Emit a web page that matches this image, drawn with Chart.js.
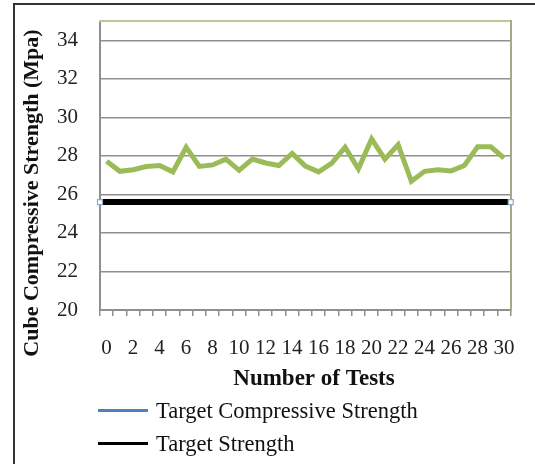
<!DOCTYPE html>
<html>
<head>
<meta charset="utf-8">
<script src="https://cdn.jsdelivr.net/npm/chart.js@4"></script>
<style>
  body { margin: 0; background: #fff; }
  #wrap { position: relative; width: 535px; height: 464px; overflow: hidden; }
  #frame { position: absolute; left: 13px; top: 3px; width: 600px; height: 600px; border: 2px solid #333; }
  #chart { position: absolute; left: 0; top: 0; }
  #legend { position: absolute; left: 98px; top: 394px; font-family: "Liberation Serif"; font-size: 22.5px; color: #111; }
  .item { display: flex; align-items: center; height: 33px; }
  .swatch { width: 50px; height: 3px; margin-right: 8px; }
</style>
</head>
<body>
<div id="wrap">
  <div id="frame"></div>
  <canvas id="chart" width="535" height="464"></canvas>
  <div id="legend"></div>
</div>
<script>
// Data
const tests = [0, 1, 2, 3, 4, 5, 6, 7, 8, 9, 10, 11, 12, 13, 14, 15, 16, 17, 18, 19, 20, 21, 22, 23, 24, 25, 26, 27, 28, 29, 30];
const strength = [27.72, 27.2, 27.28, 27.45, 27.5, 27.17, 28.45, 27.45, 27.53, 27.83, 27.25, 27.83, 27.63, 27.5, 28.13,
  27.47, 27.17, 27.62, 28.45, 27.33, 28.88, 27.83, 28.58, 26.68, 27.2, 27.28, 27.22, 27.5, 28.47, 28.47, 27.88];
const targetRange = [-0.5, 30.5];   // target lines span the whole test range
const targetCompressive = [25.6, 25.6];
const targetStrength = [25.6, 25.6];
const yTicks = [20, 22, 24, 26, 28, 30, 32, 34];

Chart.defaults.font.family = "Liberation Serif";
Chart.defaults.color = "#222";

const gridGray = "#8f8f8f";

const chart = new Chart(document.getElementById("chart").getContext("2d"), {
  type: "line",
  data: {
    datasets: [
      {
        label: "Strength",
        data: tests.map((t, i) => ({ x: t, y: strength[i] })),
        borderColor: "#9bbb59",
        borderWidth: 5,
        pointRadius: 0,
        tension: 0,
        order: 1
      },
      {
        label: "Target Compressive Strength",
        data: targetRange.map((t, i) => ({ x: t, y: targetCompressive[i] })),
        borderColor: "#4f81bd",
        borderWidth: 2,
        pointRadius: 0,
        order: 3,
        inLegend: true
      },
      {
        label: "Target Strength",
        data: targetRange.map((t, i) => ({ x: t, y: targetStrength[i] })),
        borderColor: "#000",
        borderWidth: 6,
        pointStyle: "rect",
        pointRadius: 3.5,
        pointBackgroundColor: "#fff",
        pointBorderColor: "#8ea9c8",
        pointBorderWidth: 1.2,
        clip: false,
        order: 2,
        inLegend: true
      }
    ]
  },
  options: {
    responsive: false,
    animation: false,
    layout: { padding: { left: 0, right: 24, top: 21, bottom: 0 } },
    plugins: { legend: { display: false }, tooltip: { enabled: false } },
    scales: {
      x: {
        type: "linear",
        min: -0.5,
        max: 30.5,
        afterBuildTicks: s => { s.ticks = tests.map(v => ({ value: v })); },
        afterFit: s => { s.height = 154; },
        grid: { offset: true, drawOnChartArea: false, tickLength: 6, color: gridGray, lineWidth: 1.5 },
        border: { color: gridGray, width: 2 },
        ticks: {
          autoSkip: false,
          maxRotation: 0,
          padding: 20,
          font: { size: 21 },
          callback: v => (v % 2 === 0 ? String(v) : "")
        },
        title: {
          display: true,
          text: "\u00a0\u00a0\u00a0Number of Tests",
          color: "#111",
          font: { size: 23, weight: "bold" },
          padding: { top: 0, bottom: 71 }
        }
      },
      y: {
        min: 20,
        max: 35,
        afterBuildTicks: s => { s.ticks = yTicks.map(v => ({ value: v })); },
        afterFit: s => { s.width = 100; s.paddingTop = 0; s.paddingBottom = 0; },
        grid: { color: gridGray, lineWidth: 1.5, drawTicks: false },
        border: { color: gridGray, width: 2 },
        ticks: { padding: 22, font: { size: 21 } },
        title: {
          display: true,
          text: "Cube Compressive Strength (Mpa)" + "\u00a0".repeat(10),
          color: "#111",
          font: { size: 22, weight: "bold" },
          padding: { top: 19, bottom: 0 }
        }
      },
      xTop: {
        type: "linear",
        position: "top",
        afterFit: s => { s.height = 0; },
        grid: { drawOnChartArea: false, drawTicks: false },
        border: { color: "#c2c596", width: 2 },
        ticks: { display: false }
      },
      yRight: {
        type: "linear",
        position: "right",
        afterFit: s => { s.width = 0; s.paddingTop = 0; s.paddingBottom = 0; },
        grid: { drawOnChartArea: false, drawTicks: false },
        border: { color: "#a4a98a", width: 2 },
        ticks: { display: false }
      }
    }
  }
});

// Legend built from the datasets
const legend = document.getElementById("legend");
chart.data.datasets.filter(d => d.inLegend).forEach(d => {
  const row = document.createElement("div");
  row.className = "item";
  const sw = document.createElement("span");
  sw.className = "swatch";
  sw.style.background = d.borderColor;
  const txt = document.createElement("span");
  txt.textContent = d.label;
  row.appendChild(sw);
  row.appendChild(txt);
  legend.appendChild(row);
});
</script>
</body>
</html>
